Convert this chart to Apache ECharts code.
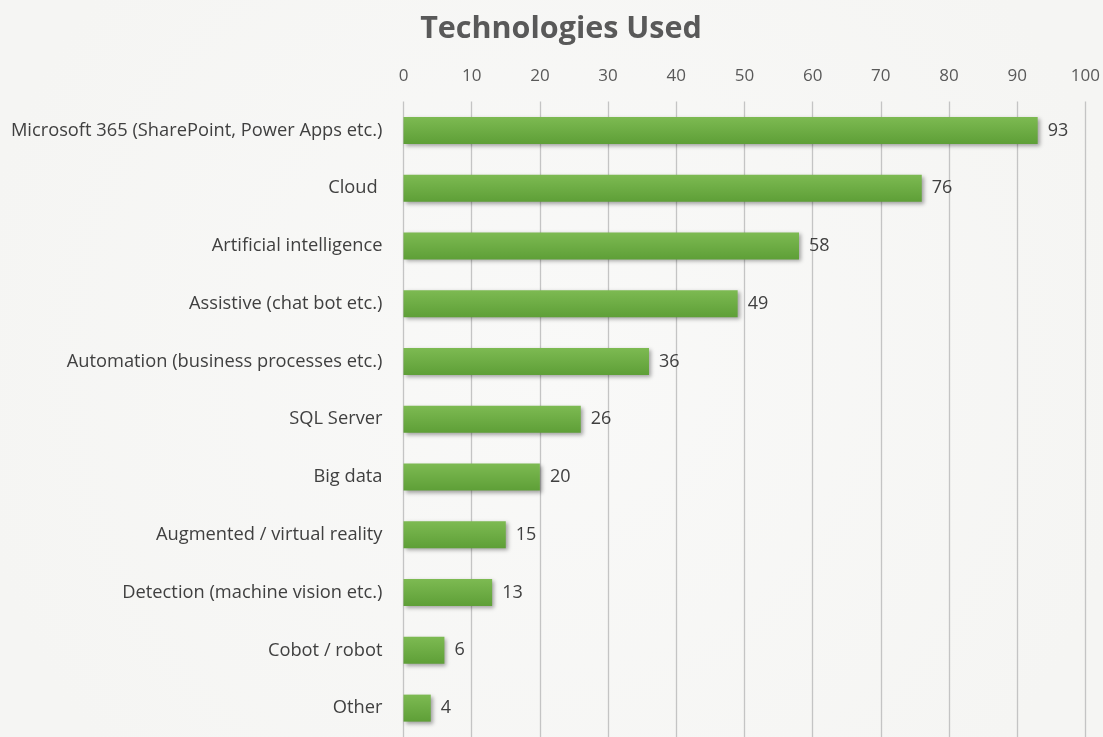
<!DOCTYPE html>
<html>
<head>
<meta charset="utf-8">
<script src="https://cdn.jsdelivr.net/npm/echarts@6/dist/echarts.min.js"></script>
<style>
html,body{margin:0;padding:0;}
#c{width:1103px;height:737px;}
</style>
</head>
<body>
<div id="c"></div>
<script>
const categories = [
  "Microsoft 365 (SharePoint, Power Apps etc.)",
  "Cloud ",
  "Artificial intelligence",
  "Assistive (chat bot etc.)",
  "Automation (business processes etc.)",
  "SQL Server",
  "Big data",
  "Augmented / virtual reality",
  "Detection (machine vision etc.)",
  "Cobot / robot",
  "Other"
];
const values = [93, 76, 58, 49, 36, 26, 20, 15, 13, 6, 4];
const xTicks = { min: 0, max: 100, interval: 10 };

const chart = echarts.init(document.getElementById('c'), null, { renderer: 'canvas' });
const font = '"Open Sans", "Noto Sans", sans-serif';
chart.setOption({
  animation: false,
  backgroundColor: {
    type: 'radial', x: 0.5, y: 0.5, r: 0.8,
    colorStops: [{ offset: 0, color: '#f9f9f8' }, { offset: 1, color: '#f5f5f3' }]
  },
  title: {
    text: 'Technologies Used',
    left: 556, top: 9, textAlign: 'center',
    textStyle: { fontFamily: font, fontWeight: 'bold', fontSize: 30.5, color: '#595959' }
  },
  grid: { left: 403.5, top: 101.5, width: 682, height: 640, containLabel: false },
  xAxis: {
    type: 'value', position: 'top',
    min: xTicks.min, max: xTicks.max, interval: xTicks.interval,
    axisLine: { show: false }, axisTick: { show: false },
    axisLabel: { margin: 17, fontFamily: font, fontSize: 17, color: '#595959' },
    splitLine: { show: true, lineStyle: { color: '#c4c4c4', width: 1.3 } }
  },
  yAxis: {
    type: 'category', inverse: true, data: categories,
    axisLine: { show: false }, axisTick: { show: false },
    axisLabel: { margin: 21, fontFamily: font, fontSize: 18.3, color: '#404040' }
  },
  series: [{
    type: 'bar', data: values, barWidth: 27,
    itemStyle: {
      color: {
        type: 'linear', x: 0, y: 0, x2: 0, y2: 1,
        colorStops: [{ offset: 0, color: '#7dba52' }, { offset: 1, color: '#5e9f37' }]
      },
      shadowColor: 'rgba(0,0,0,0.35)', shadowBlur: 4, shadowOffsetX: 2, shadowOffsetY: 2
    },
    label: {
      show: true, position: 'right', distance: 10,
      fontFamily: font, fontSize: 18, color: '#404040'
    }
  }]
});
</script>
</body>
</html>
